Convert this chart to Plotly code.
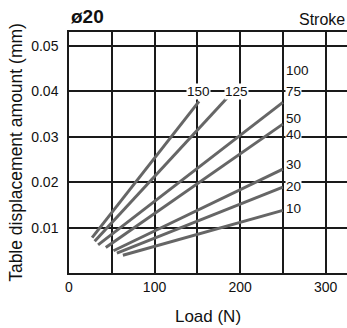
import plotly.graph_objects as go

# Stroke lines: (label, start load, start disp, end load, end disp)
stroke_names = ["150", "125", "100/75", "50/40", "30", "20", "10"]
load_start = [27, 30, 34, 43, 52, 56, 63]
disp_start = [0.0078, 0.0070, 0.0062, 0.0056, 0.0049, 0.0044, 0.0039]
load_end = [152, 185, 250, 250, 250, 250, 250]
disp_end = [0.0378, 0.0386, 0.0376, 0.0328, 0.0229, 0.0189, 0.0138]

label_text = ["150", "125", "100", "75", "50", "40", "30", "20", "10"]
label_x = [151, 196, 253, 253, 253, 253, 253, 253, 253]
label_y = [0.0401, 0.0401, 0.0447, 0.0401, 0.0340, 0.0306, 0.0238, 0.0191, 0.0143]
label_anchor = ["center", "center", "left", "left", "left", "left", "left", "left", "left"]

x_ticks = [0, 50, 100, 150, 200, 250, 300]
x_tick_text = ["0", "", "100", "", "200", "", "300"]
y_ticks = [0.01, 0.02, 0.03, 0.04, 0.05]
y_tick_text = ["0.01", "0.02", "0.03", "0.04", "0.05"]

FONT = "Liberation Sans, Arial, sans-serif"
GRID = "#1a1a1a"

fig = go.Figure()
for i, name in enumerate(stroke_names):
    fig.add_trace(go.Scatter(
        x=[load_start[i], load_end[i]], y=[disp_start[i], disp_end[i]],
        mode="lines", name=name, line=dict(color="#666666", width=3),
        showlegend=False, hoverinfo="skip"))

for t, x, y, a in zip(label_text, label_x, label_y, label_anchor):
    fig.add_annotation(x=x, y=y, text=t, showarrow=False, xanchor=a, yanchor="middle",
                       font=dict(size=13.5, color="#111111", family=FONT),
                       bgcolor="white", borderpad=0)

fig.add_annotation(x=0.0, y=1.0, xref="paper", yref="paper", text="<b>ø20</b>",
                   showarrow=False, xanchor="left", yanchor="bottom", yshift=3,
                   font=dict(size=19, color="#111111", family=FONT))
fig.add_annotation(x=1.0, y=1.0, xref="paper", yref="paper", text="Stroke",
                   showarrow=False, xanchor="right", yanchor="bottom", yshift=2, xshift=0,
                   font=dict(size=16, color="#111111", family=FONT))

fig.update_layout(
    width=347, height=328,
    margin=dict(l=69, r=0, t=32, b=55),
    paper_bgcolor="white", plot_bgcolor="white",
    font=dict(family=FONT, color="#111111"),
    xaxis=dict(range=[0, 325], tickvals=x_ticks, ticktext=x_tick_text,
               showgrid=True, gridcolor=GRID, gridwidth=1.5,
               showline=True, linecolor=GRID, linewidth=1.5, mirror=True,
               ticks="", zeroline=False, tickfont=dict(size=14),
               title=dict(text="Load (N)", font=dict(size=17), standoff=17)),
    yaxis=dict(range=[0, 0.0531], tickvals=y_ticks, ticktext=y_tick_text,
               showgrid=True, gridcolor=GRID, gridwidth=1.5,
               showline=True, linecolor=GRID, linewidth=1.5,
               ticks="", zeroline=False, tickfont=dict(size=14), ticklabelstandoff=6,
               title=dict(text="Table displacement amount (mm)", font=dict(size=17.5), standoff=4)),
)

fig.write_html("out.html", config={"displayModeBar": False},
               post_script="document.body.style.margin='0';document.body.style.overflow='hidden';")
